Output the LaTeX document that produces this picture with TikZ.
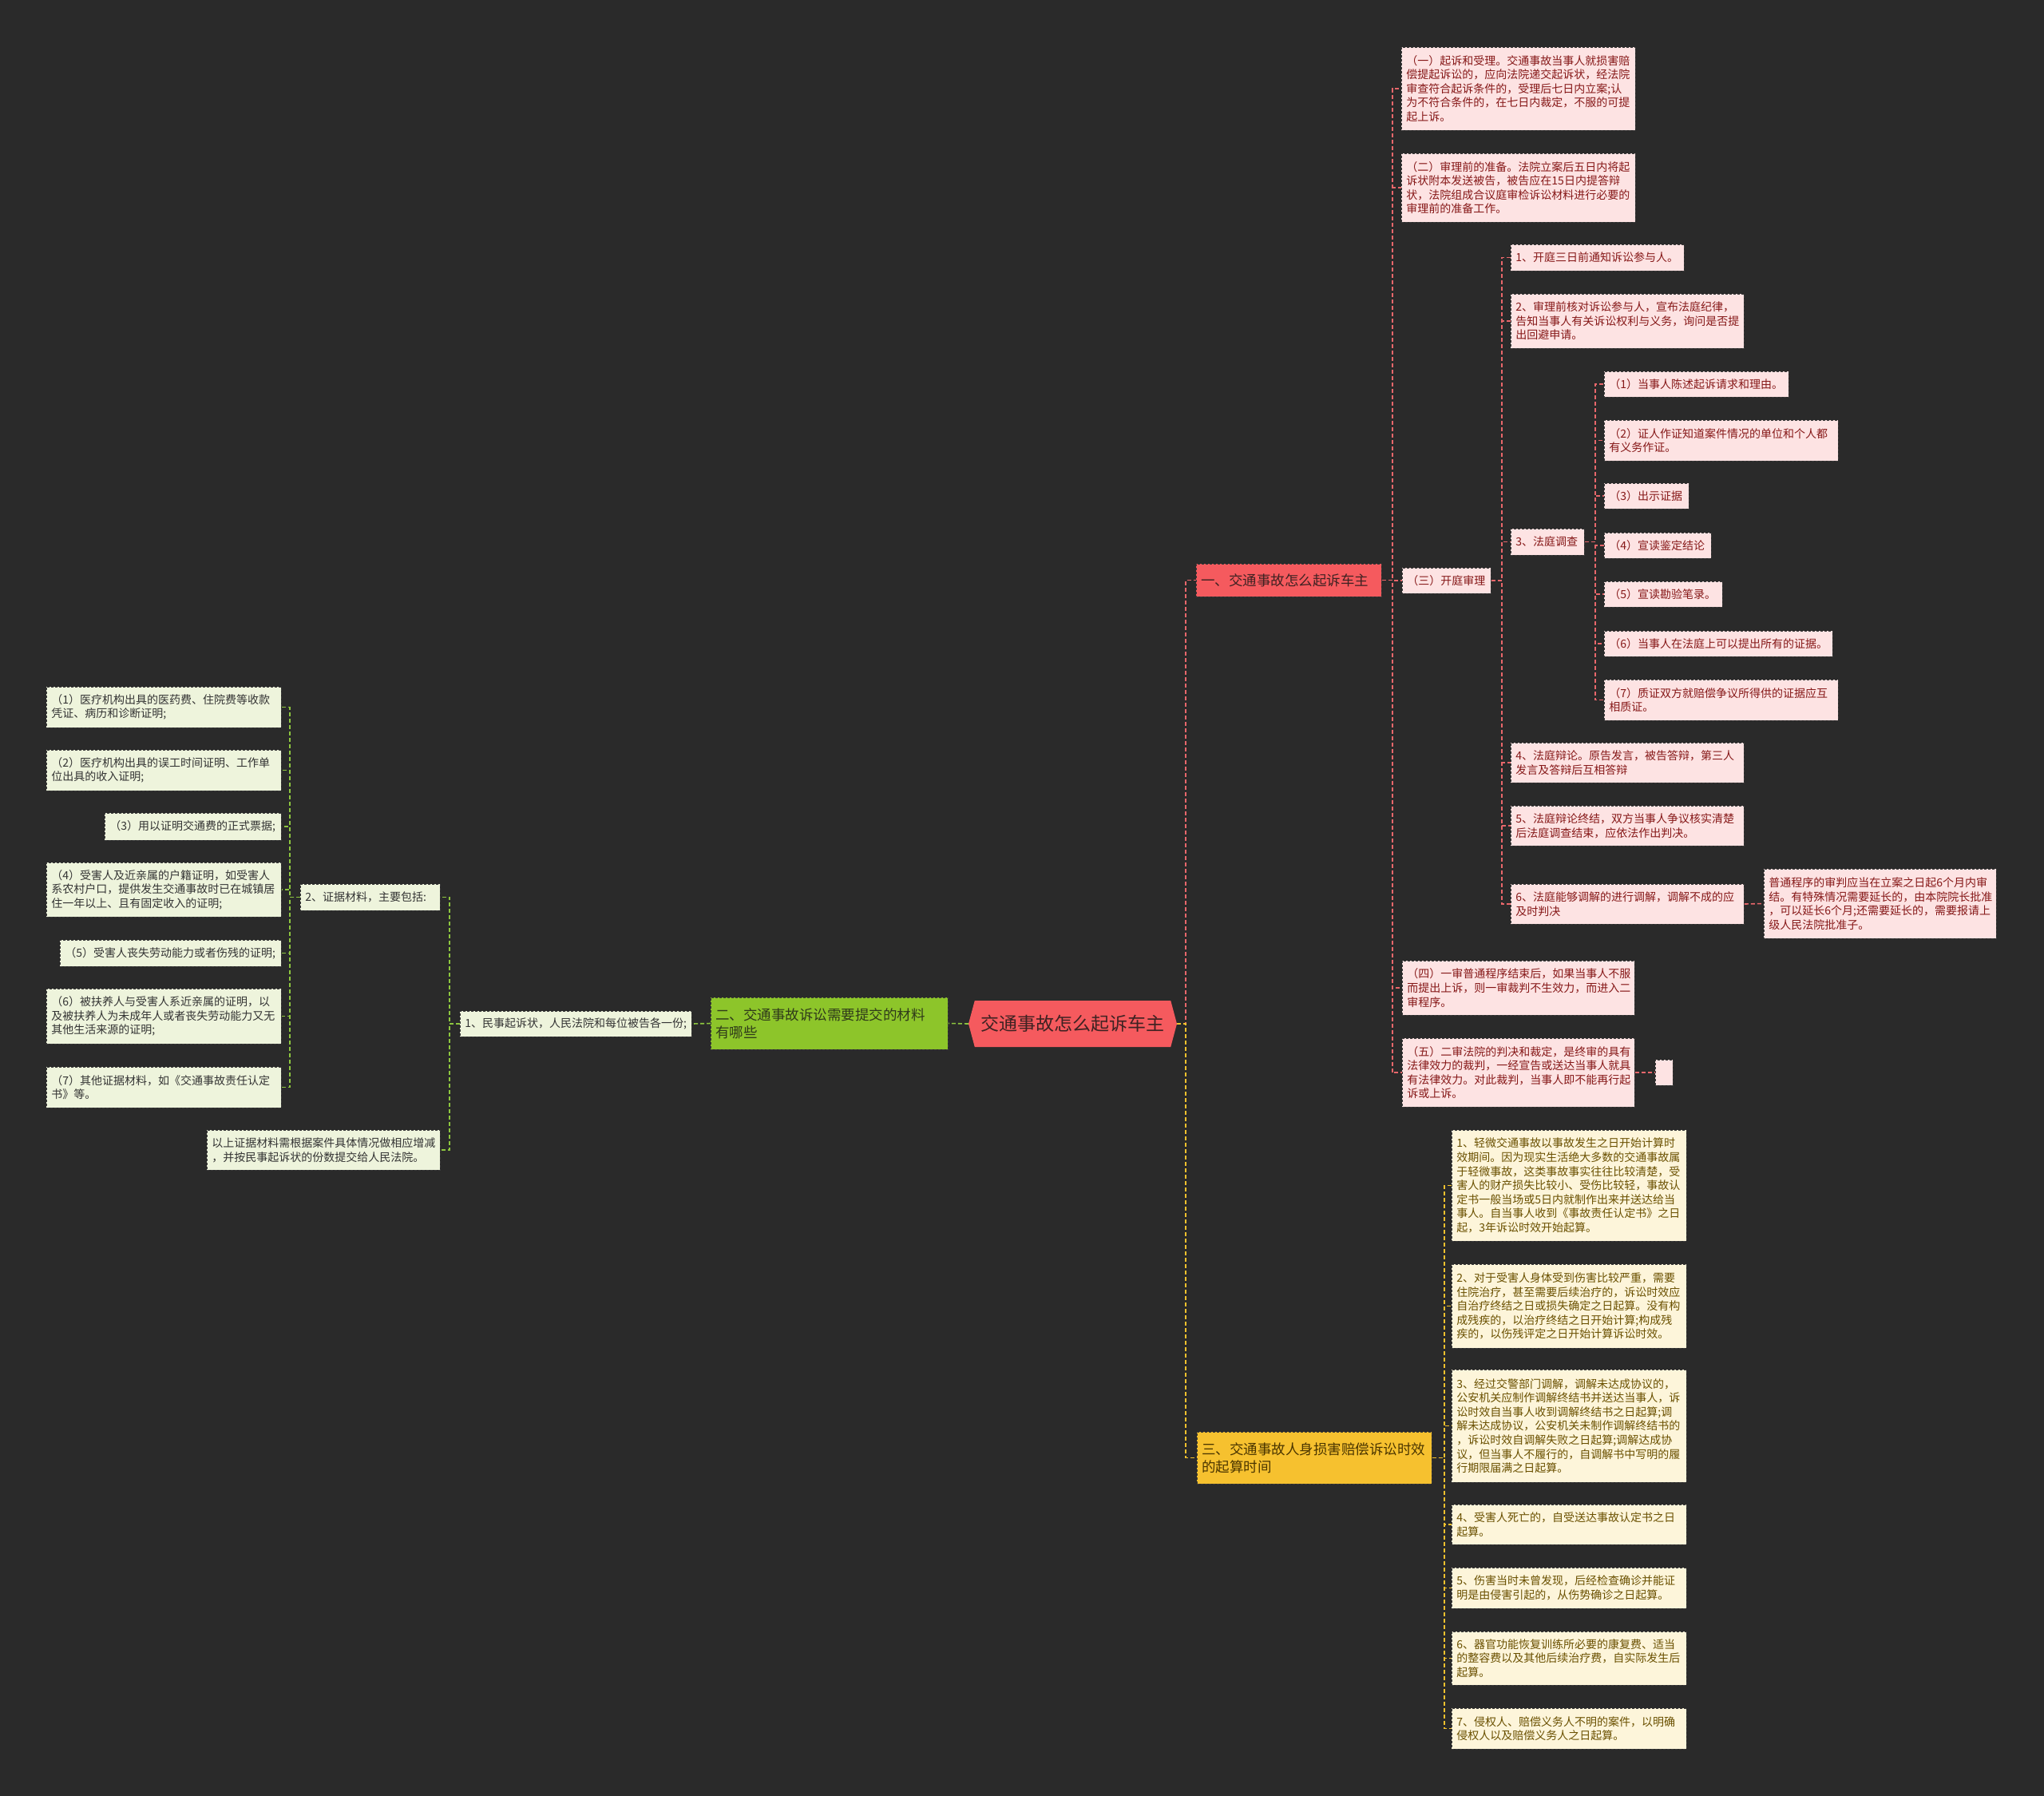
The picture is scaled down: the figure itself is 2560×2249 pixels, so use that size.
\documentclass[tikz,border=0pt]{standalone}
\usepackage{fontspec}
\newfontfamily\cjk{Noto Sans CJK SC}
\usetikzlibrary{shapes.symbols}
\definecolor{bg}{HTML}{2A2A2A}
\definecolor{boxline}{HTML}{3A3A3A}
\definecolor{pinkfill}{HTML}{FDE3E3}
\definecolor{pinktext}{HTML}{861818}
\definecolor{greenfill}{HTML}{EEF4DC}
\definecolor{greentext}{HTML}{333333}
\definecolor{yellowfill}{HTML}{FDF5DA}
\definecolor{yellowtext}{HTML}{6A5000}
\definecolor{redmain}{HTML}{F55A5E}
\definecolor{redtext}{HTML}{3E2222}
\definecolor{greenmain}{HTML}{8DC52A}
\definecolor{greenmaintext}{HTML}{2F3A1A}
\definecolor{yellowmain}{HTML}{F6C12F}
\definecolor{yellowmaintext}{HTML}{4A3500}
\definecolor{lineR}{HTML}{E8676B}
\definecolor{lineG}{HTML}{8DC63F}
\definecolor{lineY}{HTML}{F2C12E}
\newcommand\mmnode[7]{%
  \pgfmathsetmacro\mmw{#4-#3-12}%
  \pgfmathsetmacro\mmh{#6-#5}%
  \pgfmathsetmacro\mmy{(#5+#6)/2}%
  \node[#1, text width=\mmw pt, minimum height=\mmh pt, anchor=west] (#2) at (#3,\mmy) {#7};}
\tikzset{
  box/.style={draw=boxline, dash pattern=on 3pt off 2pt, line width=0.9pt, inner xsep=6pt, inner ysep=3pt, align=left, font=\cjk\fontsize{14}{17.6}\selectfont},
  pinkbox/.style={box, fill=pinkfill, text=pinktext},
  greenbox/.style={box, fill=greenfill, text=greentext},
  yellowbox/.style={box, fill=yellowfill, text=yellowtext},
  mainbox/.style={box, font=\cjk\fontsize{17.5}{22}\selectfont},
  conR/.style={draw=lineR, line width=1.6pt, dash pattern=on 5pt off 3pt},
  conG/.style={draw=lineG, line width=1.6pt, dash pattern=on 5pt off 3pt},
  conY/.style={draw=lineY, line width=1.6pt, dash pattern=on 5pt off 3pt},
}
\begin{document}
\begin{tikzpicture}[x=1pt,y=-1pt]
\fill[bg] (0,0) rectangle (2560,2249);
\useasboundingbox (0,0) rectangle (2560,2249);

% root
\node[fill=redmain, text=redtext,
  shape=signal, signal to=east and west, signal pointer angle=150,
  minimum width=261pt, minimum height=58pt, inner sep=4pt,
  font=\cjk\fontsize{23}{28}\selectfont] (root) at (1343.5,1282) {交通事故怎么起诉车主};

% main branches
\mmnode{mainbox, fill=redmain, text=redtext}{b1}{1498}{1730}{706}{747}{一、交通事故怎么起诉车主}
\mmnode{mainbox, fill=greenmain, text=greenmaintext}{b2}{890}{1187}{1249}{1314}{二、交通事故诉讼需要提交的材料\\有哪些}
\mmnode{mainbox, fill=yellowmain, text=yellowmaintext}{b3}{1499}{1793}{1793}{1858}{三、交通事故人身损害赔偿诉讼时效\\的起算时间}

% branch 1 children
\mmnode{pinkbox}{p1}{1755}{2048}{59}{163}{（一）起诉和受理。交通事故当事人就损害赔\\偿提起诉讼的，应向法院递交起诉状，经法院\\审查符合起诉条件的，受理后七日内立案;认\\为不符合条件的，在七日内裁定，不服的可提\\起上诉。}
\mmnode{pinkbox}{p2}{1755}{2048}{192}{278}{（二）审理前的准备。法院立案后五日内将起\\诉状附本发送被告，被告应在15日内提答辩\\状，法院组成合议庭审检诉讼材料进行必要的\\审理前的准备工作。}
\mmnode{pinkbox}{p3}{1756}{1867}{711}{743}{（三）开庭审理}
\mmnode{pinkbox}{p4}{1756}{2047}{1203}{1271}{（四）一审普通程序结束后，如果当事人不服\\而提出上诉，则一审裁判不生效力，而进入二\\审程序。}
\mmnode{pinkbox}{p5}{1756}{2047}{1300}{1386}{（五）二审法院的判决和裁定，是终审的具有\\法律效力的裁判，一经宣告或送达当事人就具\\有法律效力。对此裁判，当事人即不能再行起\\诉或上诉。}
\node[draw=boxline, dash pattern=on 3pt off 2pt, line width=0.9pt, fill=pinkfill, minimum width=22pt, minimum height=32pt, inner sep=0pt, anchor=west] (p5x) at (2073,1343) {};

% (三) children
\mmnode{pinkbox}{q1}{1892}{2109}{306}{339}{1、开庭三日前通知诉讼参与人。}
\mmnode{pinkbox}{q2}{1892}{2184}{368}{436}{2、审理前核对诉讼参与人，宣布法庭纪律，\\告知当事人有关诉讼权利与义务，询问是否提\\出回避申请。}
\mmnode{pinkbox}{q3}{1892}{1984}{662}{695}{3、法庭调查}
\mmnode{pinkbox}{q4}{1892}{2184}{930}{980}{4、法庭辩论。原告发言，被告答辩，第三人\\发言及答辩后互相答辩}
\mmnode{pinkbox}{q5}{1892}{2184}{1009}{1059}{5、法庭辩论终结，双方当事人争议核实清楚\\后法庭调查结束，应依法作出判决。}
\mmnode{pinkbox}{q6}{1892}{2184}{1107}{1157}{6、法庭能够调解的进行调解，调解不成的应\\及时判决}
\mmnode{pinkbox}{q6n}{2209}{2500}{1088}{1175}{普通程序的审判应当在立案之日起6个月内审\\结。有特殊情况需要延长的，由本院院长批准\\，可以延长6个月;还需要延长的，需要报请上\\级人民法院批准子。}

% 法庭调查 children
\mmnode{pinkbox}{r1}{2009}{2240}{465}{497}{（1）当事人陈述起诉请求和理由。}
\mmnode{pinkbox}{r2}{2009}{2302}{526}{577}{（2）证人作证知道案件情况的单位和个人都\\有义务作证。}
\mmnode{pinkbox}{r3}{2009}{2115}{605}{637}{（3）出示证据}
\mmnode{pinkbox}{r4}{2009}{2143}{667}{699}{（4）宣读鉴定结论}
\mmnode{pinkbox}{r5}{2009}{2157}{728}{760}{（5）宣读勘验笔录。}
\mmnode{pinkbox}{r6}{2009}{2295}{790}{822}{（6）当事人在法庭上可以提出所有的证据。}
\mmnode{pinkbox}{r7}{2009}{2302}{851}{902}{（7）质证双方就赔偿争议所得供的证据应互\\相质证。}

% branch 2 children
\mmnode{greenbox}{m1}{576}{866}{1266}{1298}{1、民事起诉状，人民法院和每位被告各一份;}
\mmnode{greenbox}{m2}{376}{551}{1107}{1140}{2、证据材料，主要包括:}
\mmnode{greenbox}{m3}{259}{551}{1415}{1465}{以上证据材料需根据案件具体情况做相应增减\\，并按民事起诉状的份数提交给人民法院。}
\mmnode{greenbox}{l1}{58}{352}{860}{911}{（1）医疗机构出具的医药费、住院费等收款\\凭证、病历和诊断证明;}
\mmnode{greenbox}{l2}{58}{352}{939}{990}{（2）医疗机构出具的误工时间证明、工作单\\位出具的收入证明;}
\mmnode{greenbox}{l3}{131}{352}{1018}{1052}{（3）用以证明交通费的正式票据;}
\mmnode{greenbox}{l4}{58}{352}{1080}{1148}{（4）受害人及近亲属的户籍证明，如受害人\\系农村户口，提供发生交通事故时已在城镇居\\住一年以上、且有固定收入的证明;}
\mmnode{greenbox}{l5}{75}{352}{1177}{1210}{（5）受害人丧失劳动能力或者伤残的证明;}
\mmnode{greenbox}{l6}{58}{352}{1238}{1307}{（6）被扶养人与受害人系近亲属的证明，以\\及被扶养人为未成年人或者丧失劳动能力又无\\其他生活来源的证明;}
\mmnode{greenbox}{l7}{58}{352}{1336}{1387}{（7）其他证据材料，如《交通事故责任认定\\书》等。}

% branch 3 children
\mmnode{yellowbox}{y1}{1818}{2112}{1415}{1554}{1、轻微交通事故以事故发生之日开始计算时\\效期间。因为现实生活绝大多数的交通事故属\\于轻微事故，这类事故事实往往比较清楚，受\\害人的财产损失比较小、受伤比较轻，事故认\\定书一般当场或5日内就制作出来并送达给当\\事人。自当事人收到《事故责任认定书》之日\\起，3年诉讼时效开始起算。}
\mmnode{yellowbox}{y2}{1818}{2112}{1583}{1688}{2、对于受害人身体受到伤害比较严重，需要\\住院治疗，甚至需要后续治疗的，诉讼时效应\\自治疗终结之日或损失确定之日起算。没有构\\成残疾的，以治疗终结之日开始计算;构成残\\疾的，以伤残评定之日开始计算诉讼时效。}
\mmnode{yellowbox}{y3}{1818}{2112}{1715}{1856}{3、经过交警部门调解，调解未达成协议的，\\公安机关应制作调解终结书并送达当事人，诉\\讼时效自当事人收到调解终结书之日起算;调\\解未达成协议，公安机关未制作调解终结书的\\，诉讼时效自调解失败之日起算;调解达成协\\议，但当事人不履行的，自调解书中写明的履\\行期限届满之日起算。}
\mmnode{yellowbox}{y4}{1818}{2112}{1884}{1934}{4、受害人死亡的，自受送达事故认定书之日\\起算。}
\mmnode{yellowbox}{y5}{1818}{2112}{1963}{2014}{5、伤害当时未曾发现，后经检查确诊并能证\\明是由侵害引起的，从伤势确诊之日起算。}
\mmnode{yellowbox}{y6}{1818}{2112}{2043}{2110}{6、器官功能恢复训练所必要的康复费、适当\\的整容费以及其他后续治疗费，自实际发生后\\起算。}
\mmnode{yellowbox}{y7}{1818}{2112}{2139}{2190}{7、侵权人、赔偿义务人不明的案件，以明确\\侵权人以及赔偿义务人之日起算。}

% connectors
\draw[conR] (root.east) -- ++(11,0) |- (b1.west);
\draw[conY] (root.east) -- ++(11,0) |- (b3.west);
\draw[conG] (root.west) -- (b2.east);
\foreach \c in {p1,p2,p3,p4,p5} \draw[conR] (b1.east) -- ++(13,0) |- (\c.west);
\draw[conR] (p5.east) -- (p5x.west);
\foreach \c in {q1,q2,q3,q4,q5,q6} \draw[conR] (p3.east) -- ++(13,0) |- (\c.west);
\draw[conR] (q6.east) -- (q6n.west);
\foreach \c in {r1,r2,r3,r4,r5,r6,r7} \draw[conR] (q3.east) -- ++(13,0) |- (\c.west);
\draw[conG] (b2.west) -- (m1.east);
\foreach \c in {m2,m3} \draw[conG] (m1.west) -- ++(-13,0) |- (\c.east);
\foreach \c in {l1,l2,l3,l4,l5,l6,l7} \draw[conG] (m2.west) -- ++(-13,0) |- (\c.east);
\foreach \c in {y1,y2,y3,y4,y5,y6,y7} \draw[conY] (b3.east) -- ++(15,0) |- (\c.west);
\end{tikzpicture}
\end{document}
